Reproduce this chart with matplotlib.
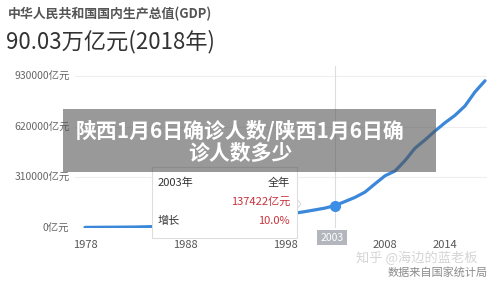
import matplotlib
matplotlib.use('Agg')
import matplotlib.pyplot as plt
from matplotlib.patches import Rectangle, Polygon

plt.rcParams['font.family'] = ['Noto Sans CJK SC', 'DejaVu Sans']

# 全国 GDP（亿元），1978-2018
years = list(range(1978, 2019))
gdp = [3679, 4101, 4588, 4936, 5373, 6021, 7279, 9099, 10376, 12175,
       15180, 17180, 18873, 22006, 27195, 35673, 48638, 61340, 71814, 79715,
       85196, 90564, 100280, 110863, 121717, 137422, 161840, 187319, 219439, 270092,
       319245, 348518, 412119, 487940, 538580, 592963, 643563, 688858, 746395, 832036,
       900309]
xticks = [1978, 1988, 1998, 2008, 2014]
yticks = [0, 310000, 620000, 930000]
ytick_labels = ['0亿元', '310000亿元', '620000亿元', '930000亿元']
hl_year = 2003
hl_value = 137422
hl_growth = '10.0%'

W, H = 500, 282
fig = plt.figure(figsize=(5, 2.82), dpi=100)
fig.patch.set_facecolor('white')

# 坐标轴：1978 -> x=85px，每年 10px；0 -> y=228px，310000 -> 50.7px
ax = fig.add_axes([75 / W, 54 / H, 412 / W, 162 / H])
ax.set_xlim(1977, 2018.2)
ax.set_ylim(0, 310000 * 162 / 50.7)
for s in ax.spines.values():
    s.set_visible(False)
ax.set_yticks(yticks)
ax.set_yticklabels(ytick_labels, fontsize=7.5, color='#666666')
ax.set_xticks(xticks)
ax.set_xticklabels([str(x) for x in xticks], fontsize=8, color='#555555')
ax.tick_params(length=0, axis='y', pad=4)
ax.tick_params(length=0, axis='x', pad=9)
ax.grid(axis='y', color='#eeeeee', linewidth=0.8)
ax.set_axisbelow(True)

ax.axvline(hl_year, color='#dddddd', linewidth=0.8, zorder=1)
ax.plot(years, gdp, color='#3b87d9', linewidth=2.3, zorder=3, solid_capstyle='round')
ax.plot([hl_year], [hl_value], 'o', color='#3d8fe6', markersize=7, zorder=4)

# 标题
fig.text(8 / W, 1 - 14 / H, '中华人民共和国国内生产总值(GDP)', fontsize=9.3,
         color='#555555', fontweight='bold', va='center', ha='left')
fig.text(6 / W, 1 - 42 / H, '90.03万亿元(2018年)', fontsize=16,
         color='#333333', va='center', ha='left')

# x 轴高亮年份标签
fig.patches.append(Rectangle((317 / W, 1 - 245 / H), 30 / W, 15 / H,
                             transform=fig.transFigure, facecolor='#b3b7bd',
                             edgecolor='none', zorder=5))
fig.text(332 / W, 1 - 238 / H, str(hl_year), fontsize=7.5, color='white',
         ha='center', va='center', zorder=6)

# 提示框
fig.patches.append(Polygon([(296 / W, 1 - 198 / H), (301 / W, 1 - 204 / H),
                            (296 / W, 1 - 210 / H)],
                           transform=fig.transFigure, facecolor='white',
                           edgecolor='#dddddd', linewidth=0.8, zorder=7))
fig.patches.append(Rectangle((152 / W, 1 - 238 / H), 145 / W, 71 / H,
                             transform=fig.transFigure, facecolor='white',
                             edgecolor='#dddddd', linewidth=0.8, zorder=7))
fig.patches.append(Rectangle((295 / W, 1 - 209 / H), 2 / W, 10 / H,
                             transform=fig.transFigure, facecolor='white',
                             edgecolor='none', zorder=7))
fig.text(158 / W, 1 - 183 / H, f'{hl_year}年', fontsize=8, color='#333333',
         ha='left', va='center', zorder=8)
fig.text(290 / W, 1 - 183 / H, '全年', fontsize=8, color='#333333',
         ha='right', va='center', zorder=8)
fig.text(290 / W, 1 - 202 / H, f'{hl_value}亿元', fontsize=8, color='#c8323c',
         ha='right', va='center', zorder=8)
fig.text(158 / W, 1 - 221 / H, '增长', fontsize=8, color='#333333',
         ha='left', va='center', zorder=8)
fig.text(290 / W, 1 - 221 / H, hl_growth, fontsize=8, color='#c8323c',
         ha='right', va='center', zorder=8)

# 半透明标题横幅
fig.patches.append(Rectangle((63 / W, 1 - 172 / H), 373 / W, 63 / H,
                             transform=fig.transFigure, facecolor='#555555',
                             alpha=0.6, edgecolor='none', zorder=10))
fig.text(240 / W, 1 - 131 / H, '陕西1月6日确诊人数/陕西1月6日确', fontsize=15,
         color='white', fontweight='bold', ha='center', va='center', zorder=11)
fig.text(240 / W, 1 - 153 / H, '诊人数多少', fontsize=15,
         color='white', fontweight='bold', ha='center', va='center', zorder=11)

# 水印
fig.text(417 / W, 1 - 258 / H, '知乎 @海边的蓝老板', fontsize=9.5, color='#d5d5d5',
         ha='center', va='center', zorder=12)
fig.text(438 / W, 1 - 272 / H, '数据来自国家统计局', fontsize=8, color='#8a8a8a',
         ha='center', va='center', zorder=12)

fig.savefig('out.png', dpi=100)
